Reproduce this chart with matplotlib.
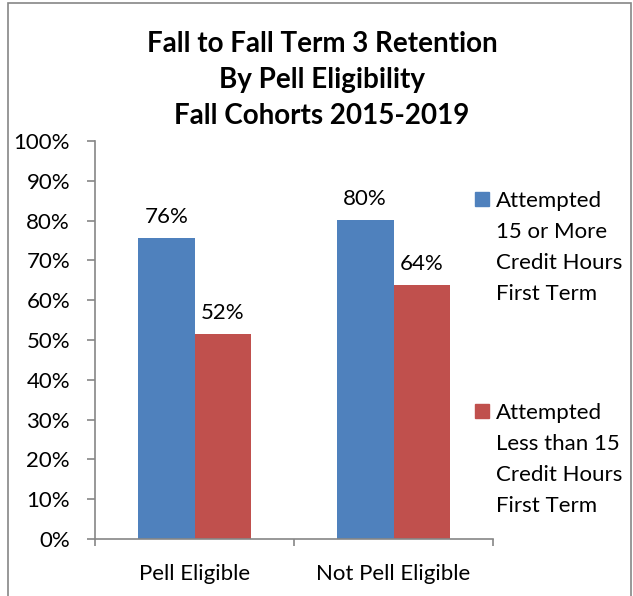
import matplotlib
matplotlib.use("Agg")
import matplotlib.pyplot as plt
from matplotlib.patches import Rectangle
import numpy as np

categories = ["Pell Eligible", "Not Pell Eligible"]
series_names = ["Attempted\n15 or More\nCredit Hours\nFirst Term",
                "Attempted\nLess than 15\nCredit Hours\nFirst Term"]
values_15_or_more = [75.6, 80.1]
values_less_than_15 = [51.5, 63.9]
colors = ["#4F81BD", "#C0504D"]
title = "Fall to Fall Term 3 Retention\nBy Pell Eligibility\nFall Cohorts 2015-2019"

plt.rcParams['font.family'] = ['Lato', 'DejaVu Sans']

W, H = 633, 596
fig = plt.figure(figsize=(W / 100, H / 100), dpi=100)

# outer frame
fig.patches.append(Rectangle((8 / W, -0.1), (631 - 8) / W, 1.1 - 3 / H,
                             transform=fig.transFigure, fill=False,
                             edgecolor="#868686", linewidth=1.2, clip_on=False))

ax = fig.add_axes([95 / W, 1 - 539 / H, (493 - 95) / W, (539 - 141) / H])
x = np.arange(len(categories))
bw = 0.284
series = [values_15_or_more, values_less_than_15]
for i, (vals, c) in enumerate(zip(series, colors)):
    bars = ax.bar(x + (i - 0.5) * bw, vals, width=bw, color=c, zorder=2)
    ax.bar_label(bars, labels=[f"{round(v)}%" for v in vals], padding=8,
                 fontsize=16, color="black")

ax.set_xlim(-0.5, len(categories) - 0.5)
ax.set_ylim(0, 100)
ax.set_yticks(np.arange(0, 101, 10))
ax.set_yticklabels([f"{t}%" for t in range(0, 101, 10)], fontsize=16)
ax.set_xticks(x)
ax.set_xticklabels(categories, fontsize=16)
ax.tick_params(axis="x", length=0, pad=18)
ax.set_xticks(np.arange(-0.5, len(categories), 1), minor=True)
ax.tick_params(axis="x", which="minor", length=5, color="#868686", width=1.2)
ax.tick_params(axis="y", length=6, color="#868686", width=1.2, pad=12)
for s in ["top", "right"]:
    ax.spines[s].set_visible(False)
for s in ["left", "bottom"]:
    ax.spines[s].set_color("#868686")
    ax.spines[s].set_linewidth(1.2)

fig.text(322 / W, 1 - 80 / H, title, ha="center", va="center",
         fontsize=20, fontweight="bold", linespacing=1.50)

# legend
for name, c, ytop in zip(series_names, colors, [199, 411]):
    fig.patches.append(Rectangle((475 / W, 1 - (ytop + 7) / H), 14 / W, 14 / H,
                                 transform=fig.transFigure, color=c))
    fig.text(496 / W, 1 - (ytop - 8) / H, name, ha="left", va="top",
             fontsize=16, linespacing=1.68)

fig.savefig("out.png", dpi=100)
